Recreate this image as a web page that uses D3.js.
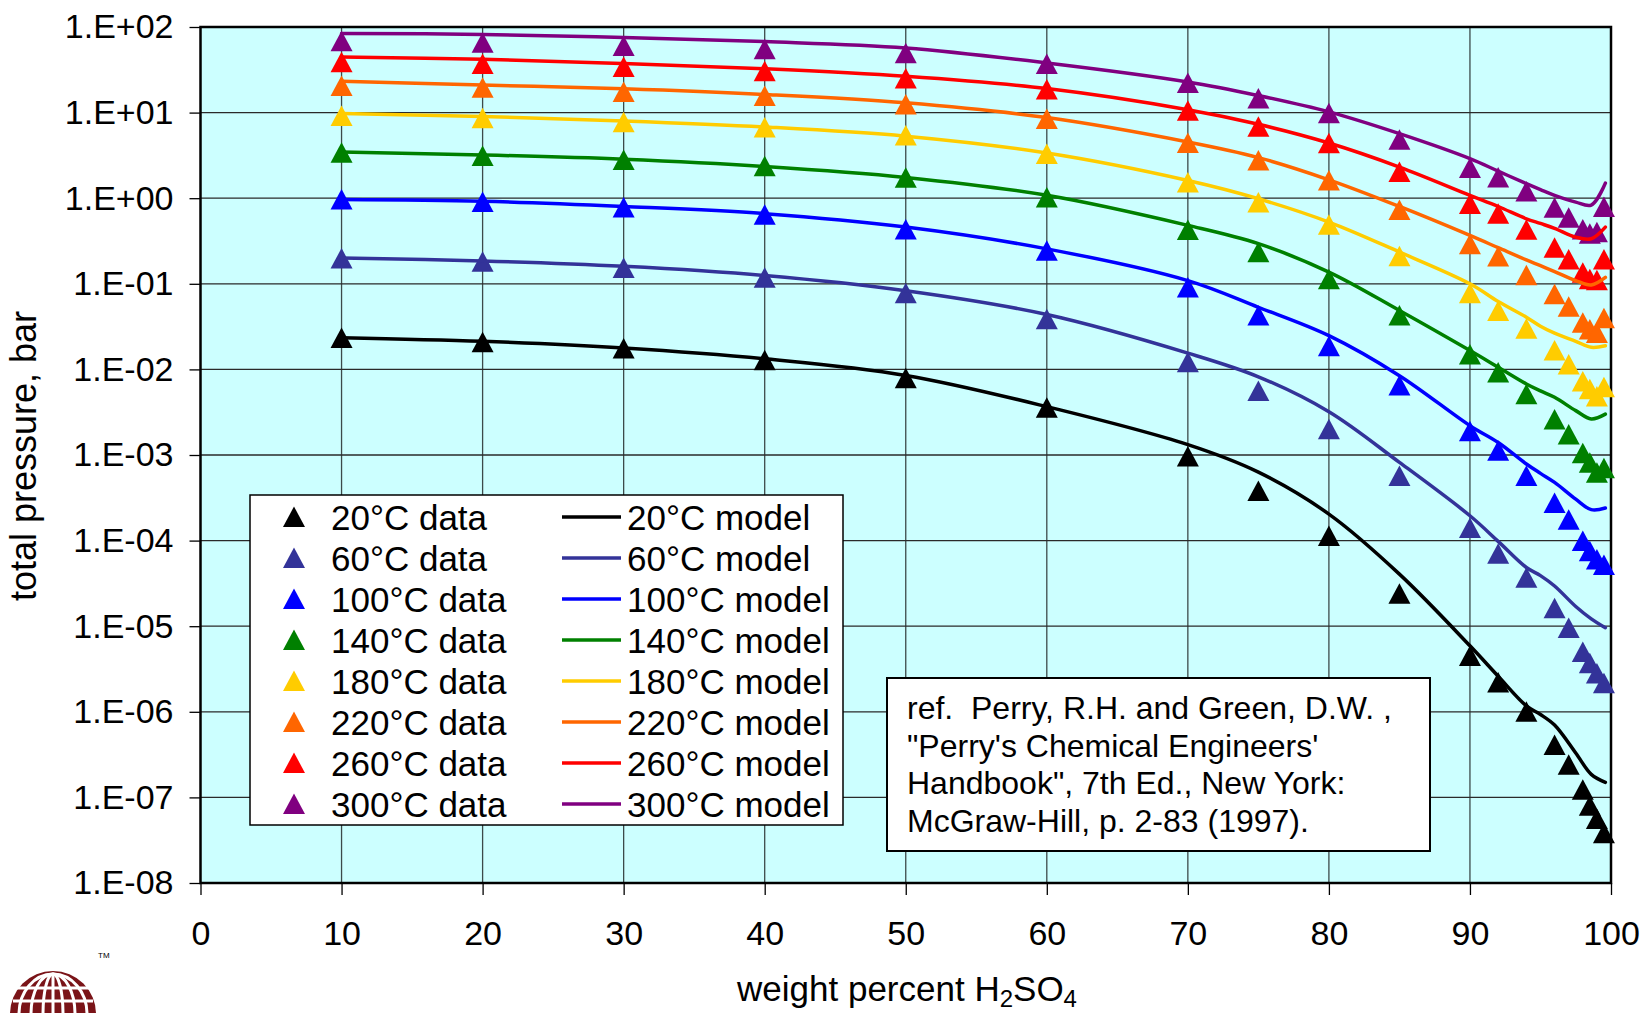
<!DOCTYPE html>
<html>
<head>
<meta charset="utf-8">
<script src="https://cdn.jsdelivr.net/npm/d3@7"></script>
<style>
  body { margin: 0; background: #fff; }
  text { font-family: "Liberation Sans", Arial, sans-serif; fill: #000; }
</style>
</head>
<body>
<div id="chart"></div>
<script>
const w = 1644;
const h = 1013;

// temperatures (one data series + one model series each)
const temps = ["20", "60", "100", "140", "180", "220", "260", "300"];
const colors = ["#000000", "#333399", "#0000ff", "#008000", "#ffcc00", "#ff6600", "#ff0000", "#800080"];

// measured points, weight percent H2SO4
const dataX = [10, 20, 30, 40, 50, 60, 70, 75, 80, 85, 90, 92, 94, 96, 97, 98, 98.5, 99, 99.5];
const data20  = [0.0232, 0.0207, 0.0175, 0.0128, 0.0079, 0.00357, 9.6e-4, 3.8e-4, 1.13e-4, 2.4e-5, 4.5e-6, 2.2e-6, 1.0e-6, 4.1e-7, 2.4e-7, 1.23e-7, 8.0e-8, 5.6e-8, 3.8e-8];
const data60  = [0.197, 0.181, 0.153, 0.118, 0.0775, 0.0385, 0.0121, 0.0056, 0.0020, 5.7e-4, 1.4e-4, 7.0e-5, 3.67e-5, 1.62e-5, 9.5e-6, 5.0e-6, 3.7e-6, 2.8e-6, 2.15e-6];
const data100 = [0.968, 0.90, 0.78, 0.64, 0.43, 0.243, 0.0906, 0.0426, 0.0186, 0.0065, 0.0019, 0.00112, 5.7e-4, 2.75e-4, 1.75e-4, 9.9e-5, 7.5e-5, 6.0e-5, 5.2e-5];
const data140 = [3.40, 3.12, 2.79, 2.36, 1.73, 1.02, 0.424, 0.234, 0.113, 0.0426, 0.0149, 0.0092, 0.00512, 0.0026, 0.00173, 0.00105, 8.1e-4, 6.2e-4, 7.0e-4];
const data180 = [9.1, 8.6, 7.7, 6.7, 5.4, 3.28, 1.53, 0.89, 0.49, 0.21, 0.0776, 0.048, 0.0298, 0.0166, 0.0114, 0.0072, 0.00585, 0.00484, 0.00618];
const data220 = [20.5, 19.5, 17.4, 15.6, 12.4, 8.4, 4.4, 2.75, 1.61, 0.726, 0.290, 0.208, 0.126, 0.0755, 0.0538, 0.035, 0.0292, 0.0267, 0.0395];
const data260 = [38.7, 37, 34, 30.5, 25, 18.6, 10.5, 6.85, 4.37, 2.02, 0.853, 0.659, 0.428, 0.264, 0.192, 0.135, 0.113, 0.110, 0.192];
const data300 = [68, 65.4, 60, 55, 49.4, 37.0, 22.2, 14.6, 9.8, 4.83, 2.25, 1.75, 1.20, 0.775, 0.592, 0.432, 0.385, 0.40, 0.787];

// model curves
const modelX = [10, 20, 30, 40, 50, 60, 70, 75, 80, 85, 90, 92, 94, 95, 96, 97.5, 98.6, 99.6];
const model20  = [0.0235, 0.0213, 0.0178, 0.0133, 0.0085, 0.00367, 0.00132, 6.3e-4, 2.04e-4, 4.06e-5, 5.9e-6, 2.6e-6, 1.17e-6, 9.3e-7, 7.0e-7, 3.3e-7, 1.86e-7, 1.5e-7];
const model60  = [0.20, 0.185, 0.16, 0.125, 0.083, 0.0438, 0.0155, 0.0082, 0.0032, 8.2e-4, 1.95e-4, 9.8e-5, 4.85e-5, 3.9e-5, 2.95e-5, 1.7e-5, 1.22e-5, 9.6e-6];
const model100 = [0.963, 0.92, 0.80, 0.66, 0.46, 0.256, 0.109, 0.0532, 0.0248, 0.00845, 0.0022, 0.0014, 7.85e-4, 6.1e-4, 4.79e-4, 3.05e-4, 2.3e-4, 2.4e-4];
const model140 = [3.46, 3.2, 2.85, 2.35, 1.75, 1.08, 0.481, 0.294, 0.137, 0.0488, 0.0166, 0.0106, 0.00676, 0.0056, 0.00472, 0.0033, 0.00264, 0.0030];
const model180 = [9.73, 9.0, 8.0, 6.8, 5.3, 3.37, 1.61, 0.986, 0.526, 0.235, 0.1, 0.062, 0.0407, 0.032, 0.0265, 0.0213, 0.0181, 0.0189];
const model220 = [23.2, 21, 19, 16.3, 13, 8.74, 4.53, 2.98, 1.64, 0.80, 0.367, 0.264, 0.19, 0.163, 0.139, 0.109, 0.097, 0.119];
const model260 = [44.7, 42, 37.5, 32.5, 26.5, 19.1, 10.8, 7.3, 4.41, 2.31, 1.08, 0.80, 0.575, 0.507, 0.445, 0.351, 0.336, 0.459];
const model300 = [84, 82, 75.5, 67.5, 56.9, 38, 22.8, 15.8, 10.2, 5.68, 2.90, 2.07, 1.48, 1.26, 1.08, 0.90, 0.83, 1.5];

const dataSets = [data20, data60, data100, data140, data180, data220, data260, data300];
const modelSets = [model20, model60, model100, model140, model180, model220, model260, model300];

const xTicks = [0, 10, 20, 30, 40, 50, 60, 70, 80, 90, 100];
const yTicks = [1e-8, 1e-7, 1e-6, 1e-5, 1e-4, 1e-3, 1e-2, 1e-1, 1e0, 1e1, 1e2];
const yTickLabels = ["1.E-08", "1.E-07", "1.E-06", "1.E-05", "1.E-04", "1.E-03", "1.E-02", "1.E-01", "1.E+00", "1.E+01", "1.E+02"];

const refLines = [
  "ref.  Perry, R.H. and Green, D.W. ,",
  "\"Perry's Chemical Engineers'",
  "Handbook\", 7th Ed., New York:",
  "McGraw-Hill, p. 2-83 (1997)."
];

const svg = d3.select("#chart")
  .append("svg")
  .attr("width", w)
  .attr("height", h);

const x = d3.scaleLinear().domain([0, 100]).range([200.5, 1611]);
const y = d3.scaleLog().domain([1e-8, 1e2]).range([883, 27]);

// plot background
svg.append("rect")
  .attr("x", x(0)).attr("y", y(1e2))
  .attr("width", x(100) - x(0)).attr("height", y(1e-8) - y(1e2))
  .attr("fill", "#ccffff");

// grid
svg.append("g").selectAll("line")
  .data(xTicks.slice(1, -1))
  .enter().append("line")
  .attr("x1", d => x(d)).attr("x2", d => x(d))
  .attr("y1", y(1e2)).attr("y2", y(1e-8))
  .attr("stroke", "#3c4a4a").attr("stroke-width", 1.3);

svg.append("g").selectAll("line")
  .data(yTicks.slice(1, -1))
  .enter().append("line")
  .attr("x1", x(0)).attr("x2", x(100))
  .attr("y1", d => y(d)).attr("y2", d => y(d))
  .attr("stroke", "#2a2a2a").attr("stroke-width", 1.3);

// axes
const yAxis = d3.axisLeft(y).tickValues(yTicks).tickSize(11).tickPadding(16)
  .tickFormat((d, i) => yTickLabels[i]);
const gy = svg.append("g").attr("transform", "translate(" + x(0) + ",0)").call(yAxis);
gy.select(".domain").remove();
gy.selectAll("line").attr("stroke", "#000").attr("stroke-width", 1.3);
gy.selectAll("text").style("font-size", "34px").attr("fill", "#000");

const xAxis = d3.axisBottom(x).tickValues(xTicks).tickSize(12).tickPadding(26);
const gx = svg.append("g").attr("transform", "translate(0," + y(1e-8) + ")").call(xAxis);
gx.select(".domain").remove();
gx.selectAll("line").attr("stroke", "#000").attr("stroke-width", 1.3);
gx.selectAll("text").style("font-size", "34px").attr("fill", "#000");

// plot border
svg.append("rect")
  .attr("x", x(0)).attr("y", y(1e2))
  .attr("width", x(100) - x(0)).attr("height", y(1e-8) - y(1e2))
  .attr("fill", "none").attr("stroke", "#000").attr("stroke-width", 2.5);

const line = d3.line()
  .x(d => x(d[0]))
  .y(d => y(d[1]))
  .curve(d3.curveCatmullRom.alpha(0.5));

const tri = "M0,-10.5L11,10L-11,10Z";

// data markers
dataSets.forEach(function(vals, i) {
  svg.append("g").selectAll("path")
    .data(vals.map((v, j) => [dataX[j], v]))
    .enter().append("path")
    .attr("d", tri)
    .attr("transform", d => "translate(" + x(d[0]) + "," + y(d[1]) + ")")
    .attr("fill", colors[i]);
});

// model lines
modelSets.forEach(function(vals, i) {
  svg.append("path")
    .datum(vals.map((v, j) => [modelX[j], v]))
    .attr("d", line)
    .attr("fill", "none")
    .attr("stroke", colors[i])
    .attr("stroke-width", 3.5)
    .attr("stroke-linejoin", "round")
    .attr("stroke-linecap", "round");
});

// legend
const legend = svg.append("g");
legend.append("rect")
  .attr("x", 250).attr("y", 495)
  .attr("width", 593).attr("height", 330)
  .attr("fill", "#fff").attr("stroke", "#000").attr("stroke-width", 1.5);

const rows = legend.selectAll("g.row")
  .data(temps)
  .enter().append("g")
  .attr("class", "row")
  .attr("transform", (d, i) => "translate(0," + (517 + i * 41) + ")");

rows.append("path")
  .attr("d", tri)
  .attr("transform", "translate(294,0)")
  .attr("fill", (d, i) => colors[i]);

rows.append("text")
  .attr("x", 331).attr("dy", "0.36em")
  .style("font-size", "35px")
  .text(d => d + "°C data");

rows.append("line")
  .attr("x1", 562).attr("x2", 621)
  .attr("stroke", (d, i) => colors[i])
  .attr("stroke-width", 3.5);

rows.append("text")
  .attr("x", 627).attr("dy", "0.36em")
  .style("font-size", "35px")
  .text(d => d + "°C model");

// reference box
svg.append("rect")
  .attr("x", 887).attr("y", 678)
  .attr("width", 543).attr("height", 173)
  .attr("fill", "#fff").attr("stroke", "#000").attr("stroke-width", 2);

svg.append("g").selectAll("text")
  .data(refLines)
  .enter().append("text")
  .attr("x", 907)
  .attr("y", (d, i) => 719 + i * 37.7)
  .style("font-size", "32px")
  .style("white-space", "pre")
  .text(d => d);

// axis titles
svg.append("text")
  .attr("transform", "translate(36,456) rotate(-90)")
  .attr("text-anchor", "middle")
  .style("font-size", "36px")
  .text("total pressure, bar");

const xt = svg.append("text")
  .attr("x", 907).attr("y", 1001)
  .attr("text-anchor", "middle")
  .style("font-size", "35px");
xt.append("tspan").text("weight percent H");
xt.append("tspan").attr("dy", 6).style("font-size", "24px").text("2");
xt.append("tspan").attr("dy", -6).text("SO");
xt.append("tspan").attr("dy", 6).style("font-size", "24px").text("4");

// logo, bottom left corner
const logo = svg.append("g").attr("transform", "translate(53,1014)");
logo.append("circle").attr("r", 43).attr("fill", "#7a1418");
[34, 22, 10].forEach(function(rx) {
  logo.append("ellipse").attr("rx", rx).attr("ry", 40)
    .attr("fill", "none").attr("stroke", "#fff").attr("stroke-width", 3);
});
[-26, -13].forEach(function(ly) {
  logo.append("line").attr("x1", -40).attr("x2", 40).attr("y1", ly).attr("y2", ly)
    .attr("stroke", "#fff").attr("stroke-width", 3);
});
logo.append("line").attr("y1", -40).attr("y2", 40)
  .attr("stroke", "#fff").attr("stroke-width", 3);
svg.append("text").attr("x", 98).attr("y", 958)
  .style("font-size", "8px").attr("fill", "#666").text("TM");
</script>
</body>
</html>
